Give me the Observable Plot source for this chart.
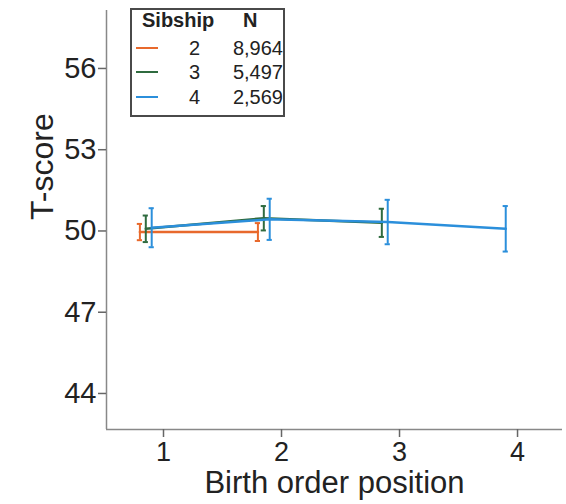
<!DOCTYPE html>
<html>
<head>
<meta charset="utf-8">
<script src="https://cdn.jsdelivr.net/npm/d3@7"></script>
<script src="https://cdn.jsdelivr.net/npm/@observablehq/plot@0.6"></script>
<style>
  html, body { margin: 0; padding: 0; background: #fff; }
  #wrap { position: relative; width: 566px; height: 504px; font-family: "Liberation Sans", Arial, sans-serif; }
  #legend { position: absolute; left: 130px; top: 8px; width: 155px; height: 109px; border: 2px solid #4a4a4a; background: #fff; box-sizing: border-box; }
  #legend .h { position: absolute; top: -2px; height: 24px; line-height: 24px; font-weight: bold; font-size: 20px; color: #222; }
  #legend .row { position: absolute; left: 0; width: 100%; height: 24px; line-height: 24px; font-size: 20px; color: #222; }
  #legend .sw { position: absolute; left: 4px; top: 11px; width: 22px; height: 2px; }
  #legend .k { position: absolute; right: 83px; top: 0; }
  #legend .n { position: absolute; right: 0px; top: 0; }
</style>
</head>
<body>
<div id="wrap"></div>
<script>
// Data
const sibship  = [2, 2, 3, 3, 3, 4, 4, 4, 4];
const position = [1, 2, 1, 2, 3, 1, 2, 3, 4];
const tMean    = [49.96, 49.96, 50.08, 50.47, 50.30, 50.12, 50.43, 50.33, 50.08];
const tErr     = [0.30, 0.33, 0.49, 0.45, 0.52, 0.72, 0.76, 0.82, 0.84];
const groups   = [2, 3, 4];
const groupN   = ["8,964", "5,497", "2,569"];
const colors   = ["#e8692c", "#2f6b3f", "#2b8fdb"];
const yTicks   = [44, 47, 50, 53, 56];
const xTicks   = [1, 2, 3, 4];
const dodge    = {2: -0.2, 3: -0.15, 4: -0.1};

const data = sibship.map((s, i) => ({
  sib: s,
  x: position[i] + dodge[s],
  y: tMean[i],
  lo: tMean[i] - tErr[i],
  hi: tMean[i] + tErr[i]
}));
const cap = 0.022;
const xDom = [0.517, 4.381];
const yDom = [42.67, 58.14];

const plot = Plot.plot({
  width: 566,
  height: 504,
  marginLeft: 106,
  marginRight: 4,
  marginTop: 10,
  marginBottom: 75,
  style: { fontFamily: "Liberation Sans, Arial, sans-serif", background: "#fff" },
  x: { domain: xDom, label: null },
  y: { domain: yDom, label: null },
  color: { domain: groups, range: colors },
  marks: [
    Plot.ruleY([yDom[0]], { stroke: "#888", strokeWidth: 1.5 }),
    Plot.ruleX([xDom[0]], { stroke: "#888", strokeWidth: 1.5 }),
    Plot.axisX({ ticks: xTicks, tickSize: 8, tickPadding: 4, fontSize: 27, stroke: "#666", strokeWidth: 1.5, fill: "#222", tickFormat: d => String(d), label: null }),
    Plot.axisY({ ticks: yTicks, tickSize: 8, tickPadding: 2, fontSize: 29, stroke: "#666", strokeWidth: 1.5, fill: "#222", label: null }),
    ...groups.map(g => {
      const d = data.filter(r => r.sib === g);
      return [
        Plot.ruleX(d, { x: "x", y1: "lo", y2: "hi", stroke: "sib", strokeWidth: 2 }),
        Plot.ruleY(d, { y: "lo", x1: r => r.x - cap, x2: r => r.x + cap, stroke: "sib", strokeWidth: 2 }),
        Plot.ruleY(d, { y: "hi", x1: r => r.x - cap, x2: r => r.x + cap, stroke: "sib", strokeWidth: 2 }),
        Plot.line(d, { x: "x", y: "y", stroke: "sib", strokeWidth: 2.5 })
      ];
    }).flat(),
    Plot.text(["Birth order position"], { frameAnchor: "bottom", lineAnchor: "middle", dy: 54, fontSize: 31, fill: "#222" }),
    Plot.text(["T-score"], { frameAnchor: "left", lineAnchor: "middle", dx: -64, rotate: -90, fontSize: 32, fill: "#222" })
  ]
});

const wrap = document.getElementById("wrap");
wrap.appendChild(plot);

const legend = document.createElement("div");
legend.id = "legend";
let html = `<div class="h" style="left:10px">Sibship</div><div class="h" style="left:111px">N</div>`;
groups.forEach((g, i) => {
  html += `<div class="row" style="top:${26 + i * 24.3}px">
    <div class="sw" style="background:${colors[i]}"></div>
    <span class="k">${g}</span><span class="n">${groupN[i]}</span></div>`;
});
legend.innerHTML = html;
wrap.appendChild(legend);
</script>
</body>
</html>
